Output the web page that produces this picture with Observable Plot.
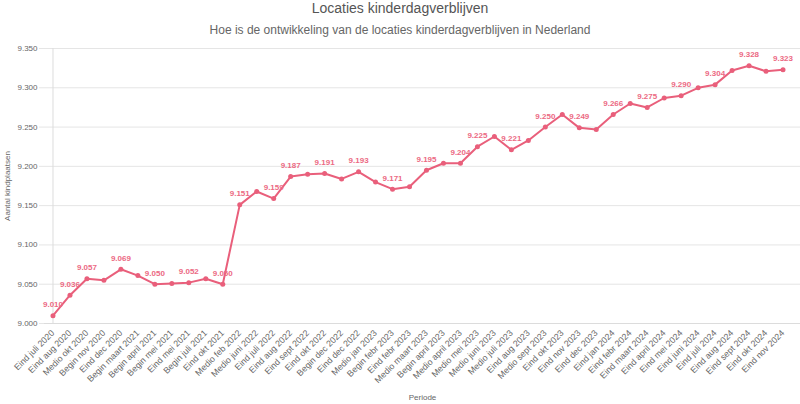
<!DOCTYPE html>
<html>
<head>
<meta charset="utf-8">
<script src="https://cdn.jsdelivr.net/npm/d3@7"></script>
<script src="https://cdn.jsdelivr.net/npm/@observablehq/plot@0.6"></script>
<style>
  html, body { margin: 0; padding: 0; background: white; overflow: hidden; }
  body { width: 800px; height: 404px; font-family: Arial, "Liberation Sans", sans-serif; }
  #title { height: 16px; line-height: 16px; font-size: 14px; color: #555; text-align: center; }
  #subtitle { margin-top: 7px; height: 17px; line-height: 14px; font-size: 12px; color: #666; text-align: center; }
</style>
</head>
<body>
<div id="title">Locaties kinderdagverblijven</div>
<div id="subtitle">Hoe is de ontwikkeling van de locaties kinderdagverblijven in Nederland</div>
<div id="chart"></div>
<script>
const periods = [
  "Eind juli 2020", "Eind aug 2020", "Medio okt 2020", "Begin nov 2020", "Eind dec 2020",
  "Begin maart 2021", "Begin april 2021", "Begin mei 2021", "Eind mei 2021", "Begin juli 2021",
  "Eind okt 2021", "Medio feb 2022", "Medio juni 2022", "Eind juli 2022", "Eind aug 2022",
  "Eind sept 2022", "Eind okt 2022", "Begin dec 2022", "Eind dec 2022", "Medio jan 2023",
  "Begin febr 2023", "Eind febr 2023", "Medio maart 2023", "Begin april 2023", "Medio april 2023",
  "Medio mei 2023", "Medio juni 2023", "Medio juli 2023", "Eind aug 2023", "Medio sept 2023",
  "Eind okt 2023", "Eind nov 2023", "Eind dec 2023", "Eind jan 2024", "Eind febr 2024",
  "Eind maart 2024", "Eind april 2024", "Eind mei 2024", "Eind juni 2024", "Eind juli 2024",
  "Eind aug 2024", "Eind sept 2024", "Eind okt 2024", "Eind nov 2024"
];
const locaties = [
  9010, 9036, 9057, 9055, 9069,
  9061, 9050, 9051, 9052, 9057,
  9050, 9151, 9168, 9159, 9187,
  9190, 9191, 9184, 9193, 9180,
  9171, 9174, 9195, 9204, 9204,
  9225, 9238, 9221, 9233, 9250,
  9266, 9249, 9247, 9266, 9280,
  9275, 9287, 9290, 9300, 9304,
  9322, 9328, 9321, 9323
];
const yTicks = [9000, 9050, 9100, 9150, 9200, 9250, 9300, 9350];

const data = periods.map((p, i) => ({period: p, value: locaties[i]}));
const nl = d3.formatLocale({decimal: ",", thousands: ".", grouping: [3], currency: ["€", ""]});
const fmt = nl.format(",d");

const color = "#e95f7b";
const W = 800, H = 364, mT = 8, mB = 81;

// Hide data labels that would collide with an already shown one (auto display)
const xs = Plot.scale({x: {type: "point", domain: periods, range: [44, 791]}});
const ys = Plot.scale({y: {domain: [9000, 9350], range: [H - mB, mT]}});
const shown = [];
const boxW = 30, boxH = 15;
data.forEach(d => {
  const cx = xs.apply(d.period), cy = ys.apply(d.value);
  if (!shown.some(s => Math.abs(s.cx - cx) < boxW && Math.abs(s.cy - cy) < boxH)) shown.push({cx, cy, d});
});
const labeled = shown.map(s => s.d);

const chart = Plot.plot({
  width: W,
  height: H,
  marginTop: mT,
  marginBottom: mB,
  marginLeft: 44,
  marginRight: 0,
  style: {fontFamily: "Arial, 'Liberation Sans', sans-serif", fontSize: "8px", color: "#666", background: "white", overflow: "visible"},
  x: {type: "point", domain: periods, range: [44, 791]},
  y: {domain: [9000, 9350]},
  marks: [
    Plot.gridY(yTicks, {stroke: "#e5e5e5", strokeOpacity: 1}),
    Plot.ruleX([periods[0]], {stroke: "#dcdcdc"}),
    Plot.ruleY([9000], {stroke: "#dcdcdc"}),
    Plot.axisY(yTicks, {
      tickFormat: fmt, tickSize: 5, tickPadding: 2, stroke: "#e5e5e5",
      label: "Aantal kindplaatsen", labelAnchor: "center", labelArrow: "none", labelOffset: 40,
      fill: "#666"
    }),
    Plot.axisX({
      tickRotate: -45, tickSize: 0, tickPadding: 8, fill: "#666", fontSize: 8.8,
      label: null
    }),
    Plot.axisX({
      ticks: [], tickSize: 0, fill: "#666", fontSize: 8,
      label: "Periode", labelAnchor: "center", labelArrow: "none", labelOffset: 76
    }),
    Plot.lineY(data, {x: "period", y: "value", stroke: color, strokeWidth: 2}),
    Plot.dot(data, {x: "period", y: "value", fill: color, r: 2.5}),
    Plot.text(labeled, {x: "period", y: "value", text: d => fmt(d.value), dy: -11, fill: "#ec6a83", fontWeight: "bold", fontSize: 8})
  ]
});
document.getElementById("chart").appendChild(chart);
</script>
</body>
</html>
